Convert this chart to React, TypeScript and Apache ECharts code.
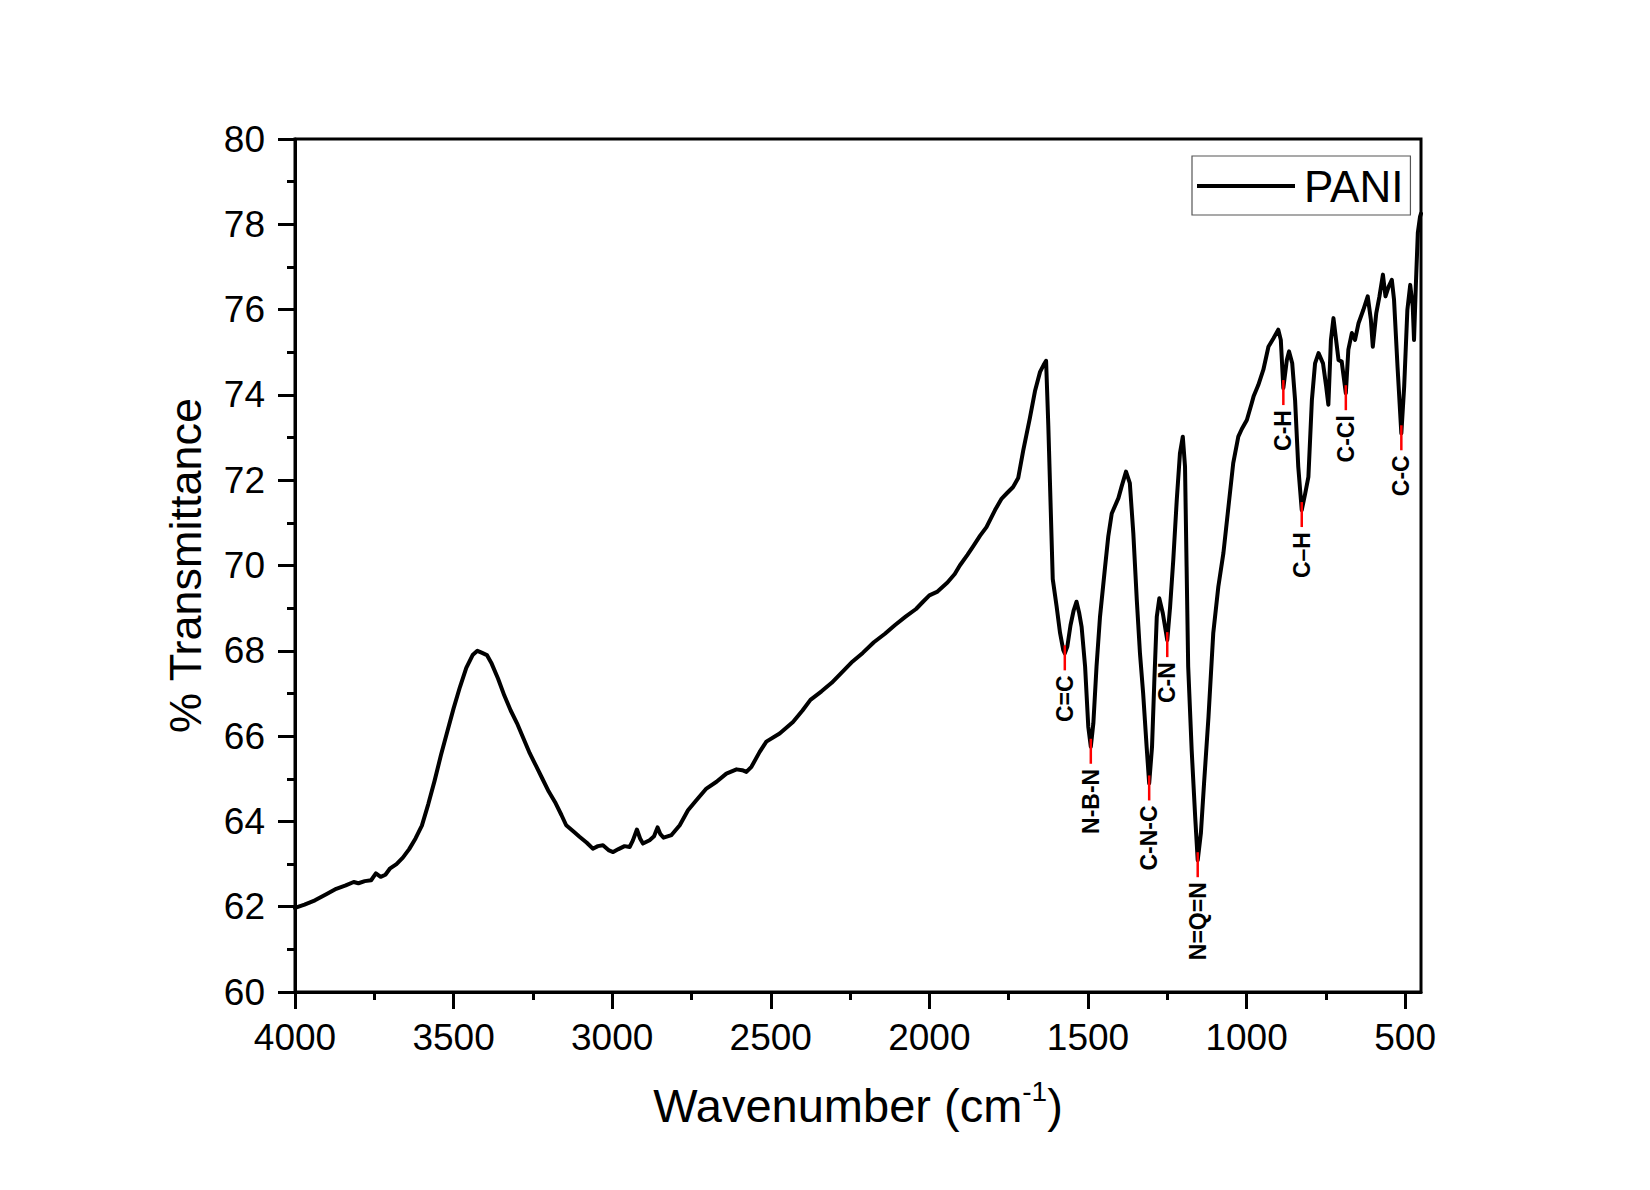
import React, { useEffect, useRef } from "react";
import * as echarts from "echarts";

const FONT = '"Liberation Sans", Arial, Helvetica, sans-serif';

const wavenumber = [
  4000, 3970, 3937, 3900, 3870, 3840, 3815, 3800, 3780, 3760, 3745, 3730, 3715, 3700, 3680, 3660, 3640, 3620, 3600,
  3580, 3560, 3540, 3520, 3500, 3480, 3460, 3440, 3425, 3410, 3395, 3380, 3360, 3340, 3320, 3300, 3280, 3260, 3240,
  3220, 3200, 3180, 3160, 3145, 3120, 3103, 3080, 3061, 3045, 3029, 3010, 2997, 2980, 2961, 2945, 2935, 2922, 2912,
  2903, 2882, 2868, 2857, 2848, 2838, 2813, 2787, 2761, 2734, 2703, 2671, 2640, 2608, 2590, 2577, 2561, 2535, 2514,
  2472, 2430, 2400, 2375, 2340, 2308, 2275, 2242, 2210, 2175, 2140, 2109, 2075, 2042, 2020, 2000, 1976, 1943, 1920,
  1904, 1880, 1862, 1840, 1820, 1793, 1772, 1755, 1736, 1720, 1704, 1683, 1667, 1651, 1640, 1632, 1625, 1618, 1611,
  1599, 1588, 1578, 1573, 1565, 1555, 1545, 1536, 1528, 1520, 1509, 1499, 1491, 1483, 1473, 1462, 1446, 1436, 1425,
  1404, 1394, 1380, 1368, 1357, 1346, 1336, 1326, 1315, 1307, 1298, 1291, 1283, 1275, 1264, 1250, 1241, 1231, 1220,
  1210, 1201, 1194, 1189, 1184, 1173, 1162, 1154, 1144, 1134, 1120, 1105, 1089, 1073, 1057, 1042, 1026, 1015, 999,
  984, 978, 963, 947, 931, 915, 900, 892, 884, 873, 866, 856, 847, 837, 826, 815, 805, 794, 784, 773, 759, 749, 742,
  734, 726, 719, 710, 700, 687, 679, 668, 658, 647, 632, 618, 608, 602, 591, 581, 570, 562, 552, 542, 535, 524, 512,
  503, 493, 484, 476, 472, 466, 460, 453, 450,
];

const transmittance = [
  61.97, 62.05, 62.15, 62.3, 62.42, 62.5, 62.58, 62.55, 62.6, 62.62, 62.78, 62.7, 62.75, 62.9, 63.0, 63.15, 63.35,
  63.6, 63.9, 64.4, 64.95, 65.55, 66.1, 66.65, 67.15, 67.6, 67.9, 68.0, 67.95, 67.9, 67.7, 67.35, 66.95, 66.6, 66.3,
  65.95, 65.6, 65.3, 65.0, 64.7, 64.45, 64.15, 63.91, 63.75, 63.64, 63.5, 63.36, 63.42, 63.44, 63.32, 63.28, 63.35,
  63.42, 63.4, 63.55, 63.81, 63.6, 63.48, 63.56, 63.65, 63.86, 63.7, 63.62, 63.68, 63.91, 64.26, 64.5, 64.77, 64.93,
  65.12, 65.22, 65.2, 65.16, 65.28, 65.63, 65.87, 66.06, 66.33, 66.6, 66.85, 67.05, 67.25, 67.5, 67.75, 67.95, 68.2,
  68.4, 68.6, 68.8, 68.98, 69.15, 69.3, 69.38, 69.6, 69.8, 70.0, 70.25, 70.45, 70.7, 70.9, 71.3, 71.57, 71.7, 71.84,
  72.05, 72.7, 73.46, 74.09, 74.54, 74.7, 74.8, 73.28, 71.48, 69.68, 69.05, 68.42, 68.02, 67.94, 68.1, 68.6, 68.95,
  69.15, 68.9, 68.56, 67.63, 66.22, 65.75, 66.3, 67.63, 68.8, 69.97, 70.68, 71.22, 71.58, 71.85, 72.2, 71.93, 70.76,
  69.19, 67.94, 67.0, 65.75, 64.89, 65.75, 67.24, 68.8, 69.23, 68.88, 68.25, 69.03, 70.13, 71.54, 72.63, 73.02,
  72.32, 69.97, 67.63, 65.67, 64.11, 63.09, 63.72, 64.89, 66.45, 68.41, 69.5, 70.29, 71.38, 72.4, 73.02, 73.2, 73.41,
  73.8, 73.96, 74.23, 74.59, 75.13, 75.33, 75.53, 75.29, 74.16, 74.82, 75.02, 74.74, 73.88, 72.32, 71.3, 71.69,
  72.08, 73.88, 74.74, 74.98, 74.74, 74.2, 73.77, 75.29, 75.8, 75.37, 74.82, 74.78, 74.04, 75.06, 75.45, 75.29,
  75.68, 75.99, 76.31, 75.76, 75.13, 75.92, 76.31, 76.82, 76.31, 76.54, 76.7, 76.23, 74.66, 73.1, 74.2, 75.99, 76.58,
  76.07, 75.29, 76.62, 77.8, 78.18, 78.25,
];

const xTickValues = [500, 1000, 1500, 2000, 2500, 3000, 3500, 4000];
const xMinorTickValues = [750, 1250, 1750, 2250, 2750, 3250, 3750];

const peakLabels = ["C=C", "N-B-N", "C-N-C", "C-N", "N=Q=N", "C-H", "C\u2013H", "C-Cl", "C-C"];
const peakWavenumbers = [1573, 1491, 1307, 1250, 1154, 884, 826, 687, 512];
const peakTransmittance = [67.94, 65.75, 64.89, 68.25, 63.09, 74.16, 71.3, 74.04, 73.1];

export default function App() {
  const ref = useRef<HTMLDivElement>(null);

  useEffect(() => {
    const chart = echarts.init(ref.current as HTMLDivElement, null, { renderer: "svg" });

    const lineData = wavenumber.map((w, i) => [w, transmittance[i]]);
    const peakData = peakWavenumbers.map((w, i) => [w, peakTransmittance[i], i]);

    const option: any = {
      animation: false,
      backgroundColor: "#ffffff",
      textStyle: { fontFamily: FONT },
      grid: {
        left: 295,
        right: 229,
        top: 139,
        bottom: 198,
        show: true,
        borderColor: "#000",
        borderWidth: 3,
        backgroundColor: "transparent",
        containLabel: false,
        outerBoundsMode: "none",
      },
      legend: {
        show: true,
        data: [{ name: "PANI", icon: "rect" }],
        left: 1192,
        top: 156,
        orient: "horizontal",
        itemWidth: 98,
        itemHeight: 4,
        padding: [8, 7, 7, 5],
        borderColor: "#555",
        borderWidth: 1.2,
        backgroundColor: "#fff",
        selectedMode: false,
        itemStyle: { color: "#000", borderWidth: 0 },
        textStyle: { fontSize: 44, lineHeight: 40, color: "#000", fontFamily: FONT, padding: [0, 0, 0, 4] },
      },
      xAxis: [
        {
          type: "value",
          min: 450,
          max: 4000,
          inverse: true,
          position: "bottom",
          axisLine: { show: true, onZero: false, lineStyle: { color: "#000", width: 3 } },
          axisTick: {
            show: true,
            inside: false,
            length: 17,
            lineStyle: { color: "#000", width: 3 },
            customValues: xTickValues,
          },
          axisLabel: {
            show: true,
            customValues: xTickValues,
            margin: 27,
            fontSize: 37,
            color: "#000",
            fontFamily: FONT,
            formatter: (v: number) => String(v),
          },
          splitLine: { show: false },
          name: "Wavenumber (cm{sup|-1})",
          nameLocation: "middle",
          nameGap: 85,
          nameTextStyle: {
            fontSize: 47,
            lineHeight: 56,
            color: "#000",
            fontFamily: FONT,
            rich: {
              sup: { fontSize: 28, color: "#000", fontFamily: FONT, verticalAlign: "top", lineHeight: 22 },
            },
          },
        },
        {
          type: "value",
          min: 450,
          max: 4000,
          inverse: true,
          position: "bottom",
          gridIndex: 0,
          axisLine: { show: false, onZero: false },
          axisLabel: { show: false },
          splitLine: { show: false },
          axisTick: {
            show: true,
            inside: false,
            length: 8,
            lineStyle: { color: "#000", width: 3 },
            customValues: xMinorTickValues,
          },
        },
      ],
      yAxis: {
        type: "value",
        min: 60,
        max: 80,
        interval: 2,
        axisLine: { show: true, onZero: false, lineStyle: { color: "#000", width: 3 } },
        axisTick: { show: true, inside: false, length: 17, lineStyle: { color: "#000", width: 3 } },
        minorTick: { show: true, splitNumber: 2, length: 8, lineStyle: { color: "#000", width: 3 } },
        axisLabel: {
          margin: 30,
          fontSize: 37,
          color: "#000",
          fontFamily: FONT,
          formatter: (v: number) => String(v),
        },
        splitLine: { show: false },
        minorSplitLine: { show: false },
        name: "% Transmittance",
        nameLocation: "middle",
        nameRotate: 90,
        nameGap: 87,
        nameTextStyle: { fontSize: 45, color: "#000", fontFamily: FONT },
      },
      series: [
        {
          name: "PANI",
          type: "line",
          xAxisIndex: 0,
          yAxisIndex: 0,
          data: lineData,
          showSymbol: false,
          symbol: "none",
          smooth: false,
          lineStyle: { color: "#000", width: 4, join: "round", cap: "round" },
          itemStyle: { color: "#000" },
          z: 2,
        },
        {
          name: "peaks",
          type: "custom",
          xAxisIndex: 0,
          yAxisIndex: 0,
          data: peakData,
          silent: true,
          clip: false,
          z: 3,
          renderItem: (params: any, api: any) => {
            const p = api.coord([api.value(0), api.value(1)]);
            const label = peakLabels[api.value(2)];
            return {
              type: "group",
              children: [
                {
                  type: "line",
                  shape: { x1: p[0], y1: p[1] - 8, x2: p[0], y2: p[1] + 17 },
                  style: { stroke: "#ff0000", lineWidth: 2.5 },
                },
                {
                  type: "text",
                  x: p[0],
                  y: p[1] + 22,
                  rotation: Math.PI / 2,
                  style: {
                    text: label,
                    align: "right",
                    verticalAlign: "middle",
                    font: `bold 23px ${FONT}`,
                    fill: "#000",
                  },
                },
              ],
            };
          },
        },
      ],
    };

    chart.setOption(option);
    return () => {
      chart.dispose();
    };
  }, []);

  return (
    <div
      ref={ref}
      style={{ position: "absolute", left: 0, top: 0, width: 1650, height: 1190, background: "#fff" }}
    />
  );
}
